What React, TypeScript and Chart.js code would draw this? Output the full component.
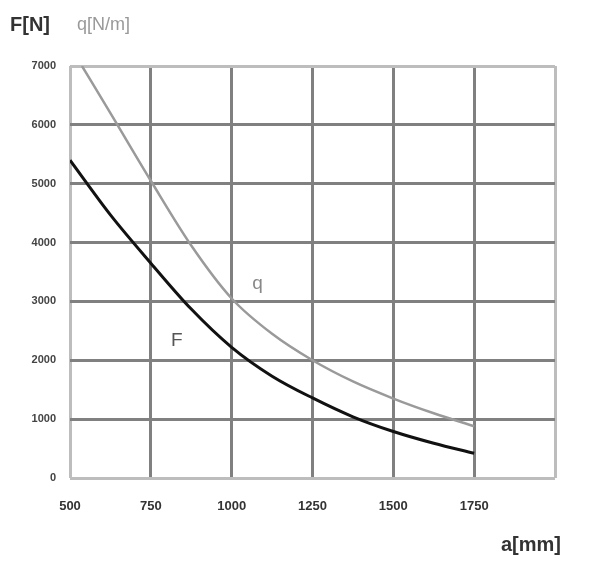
import React, { useEffect, useRef } from "react";
import { Chart, registerables } from "chart.js";

Chart.register(...registerables);

const aF = [500, 625, 750, 875, 1000, 1125, 1250, 1375, 1500, 1625, 1750];
const valuesF = [5400, 4470, 3650, 2870, 2220, 1730, 1360, 1040, 790, 590, 420];
const aQ = [537, 625, 750, 875, 1000, 1125, 1250, 1375, 1500, 1625, 1750];
const valuesQ = [7000, 6200, 5050, 3950, 3050, 2450, 2000, 1640, 1350, 1100, 880];
const xTickLabels = ["500", "750", "1000", "1250", "1500", "1750"];
const yTickLabels = ["0", "1000", "2000", "3000", "4000", "5000", "6000", "7000"];

const FONT = "'Liberation Sans', Arial, sans-serif";

const labelsPlugin = {
  id: "labelsPlugin",
  afterDraw(chart: any) {
    const ctx = chart.ctx;
    const xs = chart.scales.x;
    const ys = chart.scales.y;
    ctx.save();
    ctx.textBaseline = "middle";
    ctx.textAlign = "left";
    ctx.font = `bold 20px ${FONT}`;
    ctx.fillStyle = "#333";
    ctx.fillText("F[N]", 10, 25);
    ctx.font = `18px ${FONT}`;
    ctx.fillStyle = "#999";
    ctx.fillText("q[N/m]", 77, 25);
    ctx.font = `bold 20px ${FONT}`;
    ctx.fillStyle = "#333";
    ctx.textAlign = "right";
    ctx.fillText("a[mm]", 561, 545);
    // curve names
    ctx.textAlign = "center";
    ctx.font = `19px ${FONT}`;
    ctx.fillStyle = "#888";
    ctx.fillText("q", xs.getPixelForValue(1080), ys.getPixelForValue(3300));
    ctx.fillStyle = "#555";
    ctx.fillText("F", xs.getPixelForValue(830), ys.getPixelForValue(2330));
    ctx.restore();
  },
};

export default function App() {
  const ref = useRef<HTMLCanvasElement>(null);
  useEffect(() => {
    if (!ref.current) return;
    const borderColor = "#bdbdbd";
    const gridColor = "#808080";
    const chart = new Chart(ref.current, {
      type: "line",
      data: {
        datasets: [
          {
            label: "q",
            data: aQ.map((a, i) => ({ x: a, y: valuesQ[i] })),
            borderColor: "#9a9a9a",
            borderWidth: 2.5,
            pointRadius: 0,
            cubicInterpolationMode: "monotone",
            fill: false,
          },
          {
            label: "F",
            data: aF.map((a, i) => ({ x: a, y: valuesF[i] })),
            borderColor: "#111",
            borderWidth: 3,
            pointRadius: 0,
            cubicInterpolationMode: "monotone",
            fill: false,
          },
        ],
      },
      options: {
        animation: false,
        responsive: false,
        layout: { padding: { left: 0, top: 66, right: 40, bottom: 0 } },
        plugins: { legend: { display: false }, tooltip: { enabled: false } },
        scales: {
          x: {
            type: "linear",
            min: 500,
            max: 2000,
            afterFit(scale: any) {
              scale.height = 86;
            },
            afterBuildTicks(scale: any) {
              scale.ticks = [500, 750, 1000, 1250, 1500, 1750, 2000].map((v) => ({ value: v }));
            },
            border: { display: false },
            grid: {
              drawTicks: false,
              lineWidth: 3,
              color: (c: any) => (c.tick && (c.tick.value === 500 || c.tick.value === 2000) ? borderColor : gridColor),
            },
            ticks: {
              padding: 21,
              color: "#333",
              font: { family: FONT, size: 13, weight: "bold" },
              callback: (v: any, i: number) => (i < xTickLabels.length ? xTickLabels[i] : ""),
            },
          },
          y: {
            type: "linear",
            min: 0,
            max: 7000,
            afterFit(scale: any) {
              scale.width = 70;
            },
            afterBuildTicks(scale: any) {
              scale.ticks = [0, 1000, 2000, 3000, 4000, 5000, 6000, 7000].map((v) => ({ value: v }));
            },
            border: { display: false },
            grid: {
              drawTicks: false,
              lineWidth: 3,
              color: (c: any) => (c.tick && (c.tick.value === 0 || c.tick.value === 7000) ? borderColor : gridColor),
            },
            ticks: {
              padding: 14,
              color: "#444",
              font: { family: FONT, size: 11, weight: "bold" },
              callback: (v: any, i: number) => yTickLabels[i],
            },
          },
        },
      },
      plugins: [labelsPlugin],
    } as any);
    return () => chart.destroy();
  }, []);
  return (
    <div style={{ position: "fixed", left: 0, top: 0, width: 595, height: 564, background: "#fff" }}>
      <canvas ref={ref} width={595} height={564} style={{ display: "block" }} />
    </div>
  );
}
